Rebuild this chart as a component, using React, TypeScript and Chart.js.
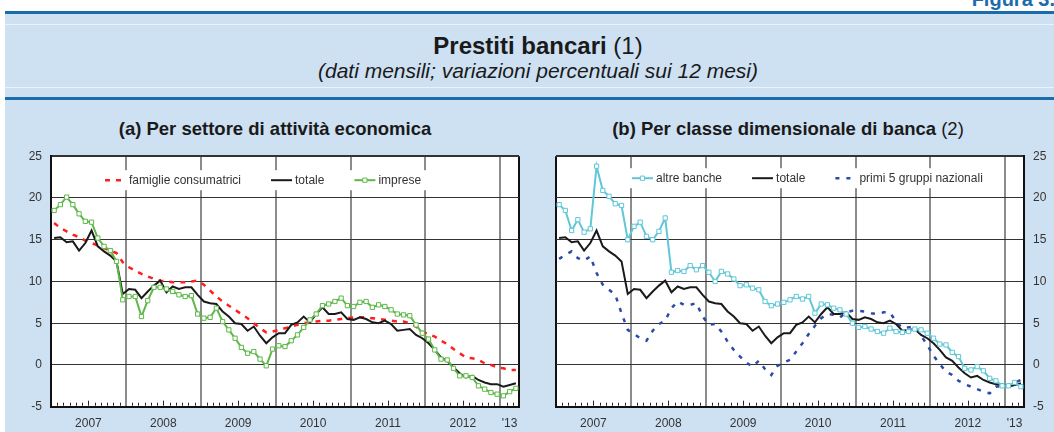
import React, { useEffect, useRef } from 'react';
import { Chart, registerables } from 'chart.js';

Chart.register(...registerables);

const FONT = 'Arial, "Liberation Sans", Helvetica, sans-serif';
Chart.defaults.font.family = FONT;

// ---------- data ----------
const START_YEAR = 2007; // first month: January 2007, monthly data
const N_MONTHS = 75; // Jan 2007 .. Mar 2013
const YEAR_LABELS = ['2007', '2008', '2009', '2010', '2011', '2012', "'13"];
const Y_TICKS = [-5, 0, 5, 10, 15, 20, 25];

const TOTALE = [
  15.2, 15.3, 14.7, 14.8, 13.7, 14.6, 16.1, 14.2, 13.6, 13.1, 12.4, 8.5,
  9.1, 9.0, 8.0, 8.8, 9.5, 10.1, 8.7, 9.4, 9.1, 9.3, 9.3, 8.4,
  7.6, 7.4, 7.3, 6.4, 5.8, 5.0, 4.9, 4.1, 4.6, 3.5, 2.6, 3.3,
  3.8, 3.8, 4.8, 5.1, 5.8, 5.1, 6.1, 6.9, 6.1, 6.1, 6.3, 5.5,
  5.4, 5.7, 5.5, 5.1, 5.0, 5.3, 4.9, 4.1, 4.2, 4.3, 3.6, 3.2,
  2.6, 1.8, 0.9, 0.5, -0.3, -1.0, -1.5, -1.3, -1.8, -2.1, -2.3, -2.3,
  -2.6, -2.4, -2.2,
];

const FAMIGLIE = [
  17.0, 16.4, 16.0, 15.6, 15.3, 14.9, 14.6, 14.3, 14.0, 13.7, 13.4, 12.3,
  11.7, 11.3, 10.9, 10.6, 10.3, 10.1, 10.0, 9.9, 9.9, 9.9, 10.0, 10.1,
  9.6, 8.9, 8.2, 7.6, 7.1, 6.6, 6.1, 5.6, 5.0, 4.4, 3.9, 4.0,
  4.2, 4.4, 4.6, 4.8, 5.0, 5.1, 5.2, 5.3, 5.3, 5.4, 5.5, 5.6,
  5.7, 5.7, 5.7, 5.6, 5.5, 5.4, 5.3, 5.2, 5.2, 5.0, 4.6, 4.0,
  3.7, 3.4, 2.9, 2.5, 1.9, 1.4, 0.9, 0.8, 0.6, 0.2, 0.0, -0.3,
  -0.4, -0.6, -0.6,
];

const IMPRESE = [
  18.5, 19.2, 20.1, 19.2, 18.1, 17.2, 17.1, 15.2, 14.2, 13.7, 12.4, 7.8,
  8.2, 8.2, 5.8, 7.7, 9.3, 9.3, 9.1, 8.8, 8.4, 8.2, 8.3, 6.1,
  5.6, 5.7, 6.8, 5.2, 4.2, 3.2, 2.1, 1.4, 1.6, 0.7, -0.1, 1.9,
  2.3, 2.2, 2.9, 3.6, 4.5, 5.4, 6.1, 7.1, 7.3, 7.6, 8.0, 7.1,
  7.0, 7.5, 7.6, 6.9, 7.2, 7.0, 6.6, 6.1, 6.0, 5.9, 4.8, 3.8,
  3.1, 1.8, 0.7, 0.6, -0.4, -1.3, -1.3, -1.5, -2.5, -2.9, -3.3, -3.5,
  -3.7, -3.2, -2.8,
];

const ALTRE_BANCHE = [
  19.2, 18.5, 16.1, 17.4, 15.9, 16.3, 23.8, 20.9, 20.2, 19.3, 19.1, 15.0,
  16.6, 17.1, 15.4, 15.0, 16.0, 17.6, 11.1, 11.3, 11.2, 11.9, 11.4, 11.9,
  11.1, 10.0, 11.2, 10.9, 10.3, 9.5, 9.6, 9.2, 9.0, 7.6, 7.1, 7.3,
  7.5, 7.8, 8.2, 7.9, 8.2, 6.2, 7.3, 7.2, 6.8, 6.6, 6.1, 5.0,
  4.5, 4.6, 4.3, 4.0, 3.8, 4.4, 4.0, 3.9, 4.0, 4.3, 4.2, 3.8,
  3.2, 2.5, 2.4, 1.5, 1.0, -0.4, -0.6, -0.2, -0.7, -1.6, -1.9, -2.5,
  -2.5, -2.1, -2.6,
];

const PRIMI_5 = [
  12.7, 13.2, 13.6, 12.8, 12.5, 13.0, 11.0, 9.6, 9.0, 8.4, 6.2, 4.2,
  3.7, 3.2, 2.9, 4.1, 4.9, 5.3, 6.8, 7.6, 7.2, 7.2, 7.4, 5.8,
  4.8, 4.9, 4.0, 2.8, 1.8, 1.0, 0.3, -0.2, 0.5, -0.5, -1.2, -0.1,
  0.3, 0.6, 1.6, 2.6, 3.7, 4.7, 5.6, 6.1, 6.0, 5.7, 6.3, 6.5,
  6.5, 6.4, 6.2, 6.1, 6.3, 6.3, 5.2, 4.4, 4.5, 4.6, 3.5, 2.4,
  1.1, 0.1, -0.8, -1.2, -1.9, -2.3, -2.6, -2.9, -3.2, -3.4, -2.6, -2.5,
  -2.4, -2.1, -1.8,
];

// ---------- styles ----------
const LIGHT_BG = '#CEE1F2';
const HEADER_BLUE = '#1B6CAB';
const RED = '#FF1F1F';
const BLACK = '#1A1A1A';
const GREEN = '#5DB847';
const CYAN = '#5FC7D7';
const BLUE = '#2A4CA6';

const toPoints = (arr: number[]) => arr.map((v, i) => ({ x: i + 0.5, y: v }));

const yearBounds = (): number[] => {
  const b: number[] = [];
  for (let m = 0; m < N_MONTHS; m += 12) b.push(m);
  b.push(N_MONTHS);
  return b;
};
const labelCenters = (): number[] =>
  YEAR_LABELS.map((_, k) => (k * 12 + Math.min(k * 12 + 12, N_MONTHS)) / 2);

const SAMPLE_W = 21;
const SAMPLE_GAP = 3;
const ITEM_GAP = 30;

const panelPlugin = {
  id: 'panelDecor',
  beforeDraw(chart: any) {
    const { ctx, chartArea: a } = chart;
    ctx.save();
    ctx.fillStyle = '#ffffff';
    ctx.fillRect(a.left, a.top, a.right - a.left, a.bottom - a.top);
    ctx.restore();
  },
  beforeDatasetsDraw(chart: any, _args: any, opts: any) {
    const { ctx, chartArea: a } = chart;
    ctx.save();
    ctx.font = '12px ' + FONT;
    const x0 = a.left + opts.legendX;
    const cy = a.top + opts.legendY;
    let x = x0;
    const items = chart.data.datasets.map((ds: any) => {
      const tw = ctx.measureText(ds.label).width;
      const it = { ds, x, tw };
      x += SAMPLE_W + SAMPLE_GAP + tw + ITEM_GAP;
      return it;
    });
    const end = x - ITEM_GAP;
    ctx.fillStyle = '#ffffff';
    ctx.fillRect(x0 - 6, cy - 10, end - x0 + 12, 20);
    items.forEach(({ ds, x: sx }: any) => {
      ctx.save();
      ctx.strokeStyle = ds.borderColor;
      ctx.lineWidth = ds.borderWidth;
      ctx.setLineDash(ds.borderDash || []);
      ctx.beginPath();
      ctx.moveTo(sx, cy);
      ctx.lineTo(sx + SAMPLE_W, cy);
      ctx.stroke();
      if (ds.pointRadius > 0) {
        ctx.setLineDash([]);
        const s = ds.pointRadius * Math.SQRT1_2;
        ctx.fillStyle = ds.pointBackgroundColor;
        ctx.strokeStyle = ds.pointBorderColor;
        ctx.lineWidth = ds.pointBorderWidth;
        ctx.beginPath();
        ctx.rect(sx + SAMPLE_W / 2 - s, cy - s, 2 * s, 2 * s);
        ctx.fill();
        ctx.stroke();
      }
      ctx.restore();
    });
    ctx.fillStyle = '#333333';
    ctx.textBaseline = 'middle';
    ctx.textAlign = 'left';
    items.forEach(({ ds, x: sx }: any) => {
      ctx.fillText(ds.label, sx + SAMPLE_W + SAMPLE_GAP, cy + 0.5);
    });
    ctx.restore();
  },
  afterDraw(chart: any) {
    const { ctx, chartArea: a } = chart;
    const xs = chart.scales.x;
    ctx.save();
    ctx.strokeStyle = '#222';
    ctx.lineWidth = 1;
    for (let m = 1; m < N_MONTHS; m++) {
      if (m % 12 === 0) continue;
      const px = Math.round(xs.getPixelForValue(m)) + 0.5;
      const len = m % 12 === 6 ? 5 : 3;
      ctx.beginPath();
      ctx.moveTo(px, a.bottom - 1);
      ctx.lineTo(px, a.bottom - 1 - len);
      ctx.stroke();
    }
    ctx.restore();
  },
};

function buildConfig(
  datasets: any[],
  side: 'left' | 'right',
  legendX: number,
  legendY: number,
  padding: any,
  yWidth: number
): any {
  const bounds = yearBounds();
  const centers = labelCenters();
  return {
    type: 'line',
    data: { datasets },
    options: {
      animation: false,
      responsive: false,
      devicePixelRatio: 1,
      layout: { padding },
      elements: { line: { tension: 0, fill: false, borderCapStyle: 'butt' } },
      plugins: {
        legend: { display: false },
        tooltip: { enabled: false },
        panelDecor: { legendX, legendY },
      },
      scales: {
        x: {
          type: 'linear',
          position: 'bottom',
          min: 0,
          max: N_MONTHS,
          afterBuildTicks: (s: any) => {
            s.ticks = bounds.map((v) => ({ value: v }));
          },
          ticks: { display: false },
          grid: {
            drawTicks: false,
            color: (c: any) =>
              c.tick && (c.tick.value === 0 || c.tick.value === N_MONTHS) ? '#111111' : '#8c8c8c',
            lineWidth: 2,
          },
          border: { display: true, color: '#111111', width: 2 },
          afterFit: (s: any) => {
            s.height = 0;
          },
        },
        xl: {
          type: 'linear',
          position: 'bottom',
          min: 0,
          max: N_MONTHS,
          afterBuildTicks: (s: any) => {
            s.ticks = centers.map((v) => ({ value: v }));
          },
          ticks: {
            autoSkip: false,
            maxRotation: 0,
            minRotation: 0,
            padding: 10,
            color: '#333333',
            font: { size: 12 },
            callback: (_v: any, i: number) => YEAR_LABELS[i],
          },
          grid: { display: false, drawTicks: false },
          border: { display: false },
          afterFit: (s: any) => {
            s.height = 25.3;
          },
        },
        y: {
          type: 'linear',
          position: side,
          min: Y_TICKS[0],
          max: Y_TICKS[Y_TICKS.length - 1],
          afterBuildTicks: (s: any) => {
            s.ticks = Y_TICKS.map((v) => ({ value: v }));
          },
          ticks: { padding: 9, color: '#333333', font: { size: 12 } },
          grid: {
            drawTicks: false,
            color: '#333333',
            lineWidth: (c: any) => (c.tick && c.tick.value === Y_TICKS[Y_TICKS.length - 1] ? 2 : 1),
          },
          border: { display: true, color: '#111111', width: 2 },
          afterFit: (s: any) => {
            s.width = yWidth;
          },
        },
      },
    },
    plugins: [panelPlugin],
  };
}

function Panel(props: {
  left: number;
  width: number;
  datasets: any[];
  side: 'left' | 'right';
  legendX: number;
  legendY: number;
  padding: any;
  yWidth: number;
}) {
  const ref = useRef<HTMLCanvasElement | null>(null);
  useEffect(() => {
    if (!ref.current) return;
    const chart = new Chart(
      ref.current,
      buildConfig(props.datasets, props.side, props.legendX, props.legendY, props.padding, props.yWidth)
    );
    return () => chart.destroy();
  }, []);
  return (
    <canvas
      ref={ref}
      width={props.width}
      height={292}
      style={{ position: 'absolute', left: props.left, top: 140, width: props.width, height: 292 }}
    />
  );
}

export default function App() {
  const leftSets = [
    {
      label: 'famiglie consumatrici',
      data: toPoints(FAMIGLIE),
      borderColor: RED,
      borderWidth: 2.5,
      borderDash: [5, 6],
      pointRadius: 0,
      order: 2,
    },
    { label: 'totale', data: toPoints(TOTALE), borderColor: BLACK, borderWidth: 2, pointRadius: 0, order: 1 },
    {
      label: 'imprese',
      data: toPoints(IMPRESE),
      borderColor: GREEN,
      borderWidth: 2,
      pointStyle: 'rect',
      pointRadius: 3,
      pointBorderWidth: 1,
      pointBackgroundColor: '#ffffff',
      pointBorderColor: GREEN,
      order: 0,
    },
  ];
  const rightSets = [
    {
      label: 'altre banche',
      data: toPoints(ALTRE_BANCHE),
      borderColor: CYAN,
      borderWidth: 2,
      pointStyle: 'rect',
      pointRadius: 3,
      pointBorderWidth: 1,
      pointBackgroundColor: '#ffffff',
      pointBorderColor: CYAN,
      order: 0,
    },
    { label: 'totale', data: toPoints(TOTALE), borderColor: BLACK, borderWidth: 2, pointRadius: 0, order: 1 },
    {
      label: 'primi 5 gruppi nazionali',
      data: toPoints(PRIMI_5),
      borderColor: BLUE,
      borderWidth: 2.5,
      borderDash: [4, 7],
      pointRadius: 0,
      order: 2,
    },
  ];

  return (
    <div
      style={{
        position: 'absolute',
        left: 0,
        top: 0,
        width: 1054,
        height: 432,
        background: '#ffffff',
        overflow: 'hidden',
        fontFamily: FONT,
      }}
    >
      <div
        style={{
          position: 'absolute',
          right: -1,
          top: -11,
          fontSize: 20,
          lineHeight: '20px',
          fontWeight: 'bold',
          color: HEADER_BLUE,
          whiteSpace: 'nowrap',
        }}
      >
        Figura 3.
      </div>
      <div style={{ position: 'absolute', left: 5, top: 11, width: 1049, height: 3, background: HEADER_BLUE }} />
      <div style={{ position: 'absolute', left: 5, top: 14, width: 1049, height: 418, background: LIGHT_BG }} />
      <div style={{ position: 'absolute', left: 5, top: 24, width: 1049, height: 1, background: '#EAF2FA' }} />
      <div
        style={{
          position: 'absolute',
          left: 0,
          top: 33,
          width: 1076,
          textAlign: 'center',
          fontSize: 24,
          lineHeight: '26px',
          color: '#1a1a1a',
          whiteSpace: 'nowrap',
        }}
      >
        <span style={{ fontWeight: 'bold' }}>Prestiti bancari</span> (1)
      </div>
      <div
        style={{
          position: 'absolute',
          left: 0,
          top: 59,
          width: 1076,
          textAlign: 'center',
          fontSize: 21,
          lineHeight: '24px',
          fontStyle: 'italic',
          color: '#1a1a1a',
          whiteSpace: 'nowrap',
        }}
      >
        (dati mensili; variazioni percentuali sui 12 mesi)
      </div>
      <div style={{ position: 'absolute', left: 5, top: 87, width: 1049, height: 1, background: '#EAF2FA' }} />
      <div style={{ position: 'absolute', left: 5, top: 97, width: 1049, height: 3, background: HEADER_BLUE }} />
      <div
        style={{
          position: 'absolute',
          left: 0,
          top: 118,
          width: 550,
          textAlign: 'center',
          fontSize: 18.5,
          lineHeight: '22px',
          fontWeight: 'bold',
          color: '#1a1a1a',
          whiteSpace: 'nowrap',
        }}
      >
        (a) Per settore di attività economica
      </div>
      <div
        style={{
          position: 'absolute',
          left: 530,
          top: 118,
          width: 516,
          textAlign: 'center',
          fontSize: 18.5,
          lineHeight: '22px',
          color: '#1a1a1a',
          whiteSpace: 'nowrap',
        }}
      >
        <span style={{ fontWeight: 'bold' }}>(b) Per classe dimensionale di banca</span> (2)
      </div>
      <Panel
        left={0}
        width={530}
        datasets={leftSets}
        side="left"
        legendX={54}
        legendY={24}
        padding={{ left: 0, top: 14, right: 11, bottom: 0 }}
        yWidth={51}
      />
      <Panel
        left={530}
        width={524}
        datasets={rightSets}
        side="right"
        legendX={76}
        legendY={22}
        padding={{ left: 26, top: 14, right: 0, bottom: 0 }}
        yWidth={30}
      />
    </div>
  );
}
